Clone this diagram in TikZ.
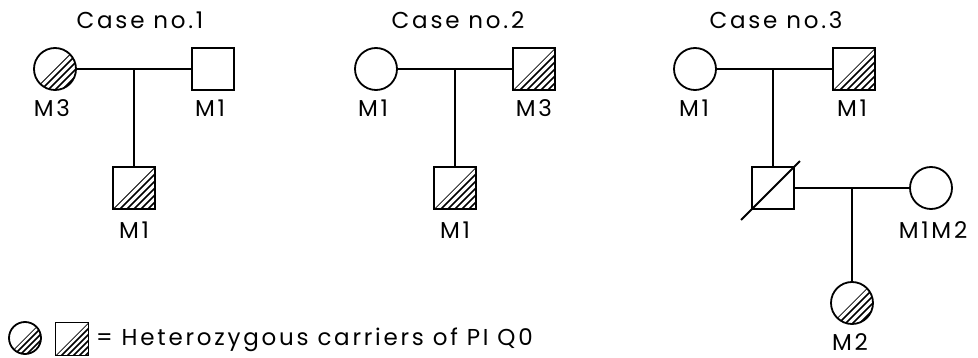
\documentclass[tikz,border=0pt]{standalone}
\usepackage{fontspec}
\usepackage{tikz}
\usetikzlibrary{calc}
\newfontfamily\pedfont{Poppins}[LetterSpace=12]
\tikzset{
  male/.style={draw,line width=1.8pt,rectangle,minimum size=42pt,inner sep=0pt},
  female/.style={draw,line width=1.8pt,circle,minimum size=42pt,inner sep=0pt},
  keymale/.style={male,minimum size=33pt},
  keyfemale/.style={female,minimum size=32pt},
  lbl/.style={font=\pedfont\fontsize{23}{27}\selectfont,inner sep=0pt},
  link/.style={line width=1.8pt},
  hatchline/.style={line width=1.5pt}
}
% hatch the lower right half of a square / circle node
\newcommand{\hatchsq}[3]{% node, half side, step
  \begin{scope}[shift={(#1.center)}]
    \clip (-#2,#2) -- (#2,-#2) -- (#2,#2) -- cycle;
    \pgfmathtruncatemacro\hmax{2*#2}
    \pgfmathtruncatemacro\hnext{#3}
    \foreach \k in {0,\hnext,...,\hmax} \draw[hatchline] (\k-40,40) -- (40,\k-40);
  \end{scope}}
\newcommand{\hatchci}[3]{% node, radius, step
  \begin{scope}[shift={(#1.center)}]
    \clip (0,0) circle (#2pt);
    \clip (-40,40) -- (40,-40) -- (40,40) -- cycle;
    \pgfmathtruncatemacro\hmax{2*#2}
    \pgfmathtruncatemacro\hnext{#3}
    \foreach \k in {0,\hnext,...,\hmax} \draw[hatchline] (\k-40,40) -- (40,\k-40);
  \end{scope}}

\begin{document}
\begin{tikzpicture}[x=1pt,y=-1pt]
  \useasboundingbox (0,0) rectangle (978,358);

  % Case no.1
  \node[lbl] (t1) at (140,20) {Case no.1};
  \node[female] (c1f) at (55,69) {};
  \node[male] (c1m) at (213,69) {};
  \node[male] (c1c) at (134,188) {};
  \hatchci{c1f}{21}{7}
  \hatchsq{c1c}{21}{7}
  \draw[link] (c1f.east) -- (c1m.west);
  \draw[link] (c1c.north |- c1f.east) -- (c1c.north);
  \node[lbl] (l1f) at (52,108) {M3};
  \node[lbl] (l1m) at (210,108) {M1};
  \node[lbl] (l1c) at (134,230) {M1};

  % Case no.2
  \node[lbl] (t2) at (458,20) {Case no.2};
  \node[female] (c2f) at (376,69) {};
  \node[male] (c2m) at (534,69) {};
  \node[male] (c2c) at (455,188) {};
  \hatchsq{c2m}{21}{7}
  \hatchsq{c2c}{21}{7}
  \draw[link] (c2f.east) -- (c2m.west);
  \draw[link] (c2c.north |- c2f.east) -- (c2c.north);
  \node[lbl] (l2f) at (373,108) {M1};
  \node[lbl] (l2m) at (534,108) {M3};
  \node[lbl] (l2c) at (455,230) {M1};

  % Case no.3
  \node[lbl] (t3) at (776,20) {Case no.3};
  \node[female] (c3f) at (695,69) {};
  \node[male] (c3m) at (854,69) {};
  \node[male] (c3s) at (773,188) {};
  \node[female] (c3w) at (931,188) {};
  \node[female] (c3d) at (852,303) {};
  \hatchsq{c3m}{21}{7}
  \hatchci{c3d}{21}{7}
  \draw[link] (c3f.east) -- (c3m.west);
  \draw[link] (c3s.north |- c3f.east) -- (c3s.north);
  \draw[link] (c3s.east) -- (c3w.west);
  \draw[link] (c3d.north |- c3s.east) -- (c3d.north);
  \draw[link] ($(c3s.south west)+(-10,10)$) -- ($(c3s.north east)+(5,-5)$);
  \node[lbl] (l3f) at (694,108) {M1};
  \node[lbl] (l3m) at (852,108) {M1};
  \node[lbl] (l3w) at (933,230) {M1M2};
  \node[lbl] (l3d) at (850,342) {M2};

  % key
  \node[keyfemale] (kf) at (25,338) {};
  \node[keymale] (km) at (72,339) {};
  \hatchci{kf}{16}{6}
  \hatchsq{km}{16}{6}
  \node[lbl,anchor=west] (kt) at (96,340) {= Heterozygous carriers of PI Q0};
\end{tikzpicture}
\end{document}
